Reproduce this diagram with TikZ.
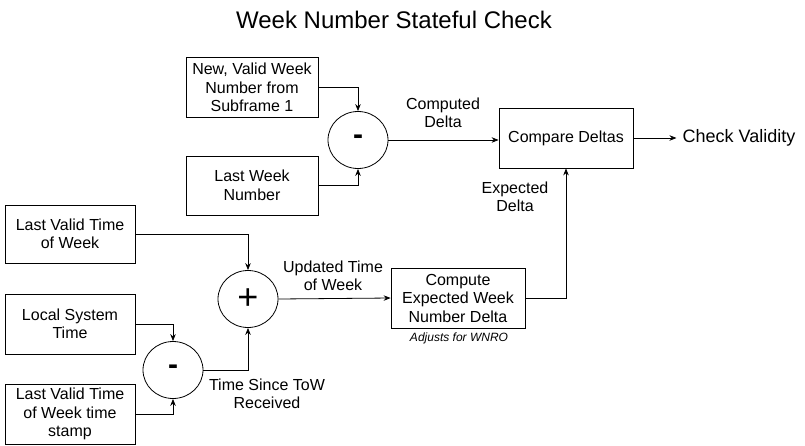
\documentclass[tikz,border=0pt]{standalone}
\usepackage{fontspec}
\setmainfont{Liberation Sans}
\usetikzlibrary{arrows.meta,shapes.geometric}

\tikzset{
  block/.style={draw, line width=0.8pt, align=center, inner sep=2pt, font=\fontsize{16}{18.5}\selectfont},
  sumnode/.style={draw, ellipse, line width=0.8pt, minimum width=60pt, minimum height=57pt, inner sep=0pt},
  lbl/.style={align=center, font=\fontsize{16}{18.5}\selectfont},
  arr/.style={line width=0.8pt, -{Stealth[length=7pt,width=5.5pt]}},
}

\begin{document}
\begin{tikzpicture}[x=1pt,y=-1pt]
\useasboundingbox (0,0) rectangle (805,445);

\node[font=\fontsize{24}{28}\selectfont] (title) at (394,20) {Week Number Stateful Check};

% week number part
\node[block, minimum width=132pt, minimum height=60pt] (newwn) at (252,87.5) {New, Valid Week\\Number from\\Subframe 1};
\node[block, minimum width=132pt, minimum height=59pt] (lastwn) at (252,185.5) {Last Week\\Number};
\node[sumnode, font=\fontsize{30}{30}\selectfont\bfseries] (sub1) at (358,140) {-};
\node[block, minimum width=134pt, minimum height=60pt] (compare) at (566,138) {Compare Deltas};
\node[font=\fontsize{18}{20}\selectfont, inner sep=6pt] (validity) at (739,138) {Check Validity};
\node[lbl] (computed) at (443,113) {Computed\\Delta};
\node[lbl] (expected) at (515,197) {Expected\\Delta};

% time of week part
\node[block, minimum width=130pt, minimum height=58pt] (lastvtow) at (70,234) {Last Valid Time\\of Week};
\node[block, minimum width=130pt, minimum height=60pt] (localtime) at (70,324) {Local System\\Time};
\node[block, minimum width=130pt, minimum height=60pt] (towstamp) at (70,414) {Last Valid Time\\of Week time\\stamp};
\node[sumnode, font=\fontsize{36}{36}\selectfont] (add) at (248,299) {+};
\node[sumnode, font=\fontsize{30}{30}\selectfont\bfseries] (sub2) at (173,370) {-};
\node[block, minimum width=134pt, minimum height=60pt] (compute) at (458,298) {Compute\\Expected Week\\Number Delta};
\node[font=\fontsize{12}{14}\selectfont\itshape] (wnro) at (459,338) {Adjusts for WNRO};
\node[lbl] (updated) at (333,276) {Updated Time\\of Week};
\node[lbl] (since) at (267,394) {Time Since ToW\\Received};

\draw[arr] (newwn.east) -| (sub1.north);
\draw[arr] (lastwn.east) -| (sub1.south);
\draw[arr] (sub1.east) -- (sub1.east -| compare.west);
\draw[arr] (compare.east) -- (validity.west);

\draw[arr] (lastvtow.east) -| (add.north);
\draw[arr] (localtime.east) -| (sub2.north);
\draw[arr] (towstamp.east) -| (sub2.south);
\draw[arr] (sub2.east) -| (add.south);
\draw[arr] (add.east) -- (compute.west);
\draw[arr] (compute.east) -| (compare.south);
\end{tikzpicture}
\end{document}
